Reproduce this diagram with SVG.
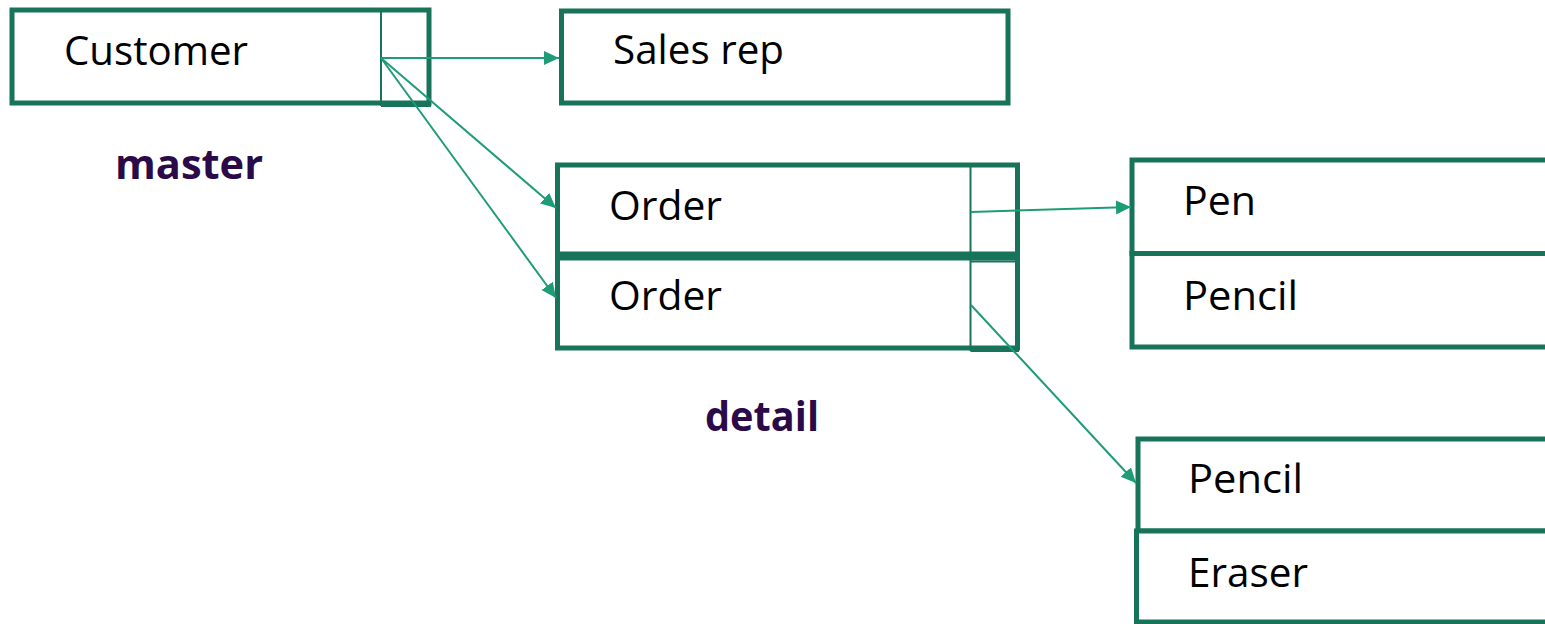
<svg xmlns="http://www.w3.org/2000/svg" width="1545" height="624" viewBox="0 0 1545 624">
  <style>
    .box { fill: #ffffff; stroke: #17745a; stroke-width: 5; }
    .key { fill: none; stroke: #17745a; stroke-width: 2; }
    .keybase { fill: none; stroke: #17745a; stroke-width: 5; }
    .label { font-family: "Open Sans", "Noto Sans", sans-serif; font-size: 41px; fill: #000000; }
    .tag { font-family: "Open Sans", "Noto Sans", sans-serif; font-size: 41px; font-weight: bold; fill: #2a0a48; }
    .link { fill: none; stroke: #1e9c77; stroke-width: 2; marker-end: url(#arrow); }
  </style>
  <defs>
    <marker id="arrow" markerUnits="userSpaceOnUse" markerWidth="16" markerHeight="15" refX="15" refY="7" orient="auto">
      <path d="M0,0 L15,7 L0,14 Z" fill="#1e9c77"/>
    </marker>
  </defs>
  <rect width="1545" height="624" fill="#ffffff"/>

  <!-- master record -->
  <g id="customer">
    <rect class="box" x="12" y="10" width="417" height="93"/>
    <line class="key" x1="381" y1="10" x2="381" y2="106"/>
    <line class="keybase" x1="381" y1="104.5" x2="431" y2="104.5"/>
    <text class="label" x="64" y="65" textLength="184" lengthAdjust="spacingAndGlyphs">Customer</text>
  </g>

  <g id="sales-rep">
    <rect class="box" x="561.5" y="11" width="446.5" height="92"/>
    <text class="label" x="613" y="64" textLength="171" lengthAdjust="spacingAndGlyphs">Sales rep</text>
  </g>

  <g id="master-label">
    <text class="tag" x="115" y="179" textLength="148" lengthAdjust="spacingAndGlyphs">master</text>
  </g>

  <!-- detail records -->
  <g id="order-1">
    <rect class="box" x="557.5" y="165" width="460" height="89"/>
    <line class="key" x1="970.5" y1="165" x2="970.5" y2="256"/>
    <text class="label" x="609" y="220" textLength="113" lengthAdjust="spacingAndGlyphs">Order</text>
  </g>

  <g id="order-2">
    <rect class="box" x="557.5" y="258" width="460" height="90"/>
    <line class="key" x1="970.5" y1="256" x2="970.5" y2="351"/>
    <line class="key" x1="970.5" y1="261.5" x2="1018" y2="261.5"/>
    <line class="keybase" x1="970.5" y1="349.5" x2="1019" y2="349.5"/>
    <text class="label" x="609" y="310" textLength="113" lengthAdjust="spacingAndGlyphs">Order</text>
  </g>

  <g id="detail-label">
    <text class="tag" x="705" y="431" textLength="114" lengthAdjust="spacingAndGlyphs">detail</text>
  </g>

  <!-- items of the first order -->
  <g id="item-pen">
    <rect class="box" x="1132" y="160" width="430" height="93.5"/>
    <text class="label" x="1183" y="215" textLength="73" lengthAdjust="spacingAndGlyphs">Pen</text>
  </g>
  <g id="item-pencil-1">
    <rect class="box" x="1132" y="253.5" width="430" height="93.5"/>
    <text class="label" x="1183" y="310" textLength="115" lengthAdjust="spacingAndGlyphs">Pencil</text>
  </g>

  <!-- items of the second order -->
  <g id="item-pencil-2">
    <rect class="box" x="1138" y="439" width="430" height="92"/>
    <text class="label" x="1188" y="493" textLength="115" lengthAdjust="spacingAndGlyphs">Pencil</text>
  </g>
  <g id="item-eraser">
    <rect class="box" x="1136.5" y="531" width="430" height="91"/>
    <text class="label" x="1188" y="587" textLength="120" lengthAdjust="spacingAndGlyphs">Eraser</text>
  </g>

  <!-- connectors -->
  <g id="connectors">
    <line class="link" x1="381" y1="58" x2="559" y2="58"/>
    <line class="link" x1="381" y1="58" x2="556" y2="208"/>
    <line class="link" x1="381" y1="58" x2="556" y2="298"/>
    <line class="link" x1="971" y1="212" x2="1131" y2="207"/>
    <line class="link" x1="971" y1="305" x2="1136" y2="483"/>
  </g>
</svg>
